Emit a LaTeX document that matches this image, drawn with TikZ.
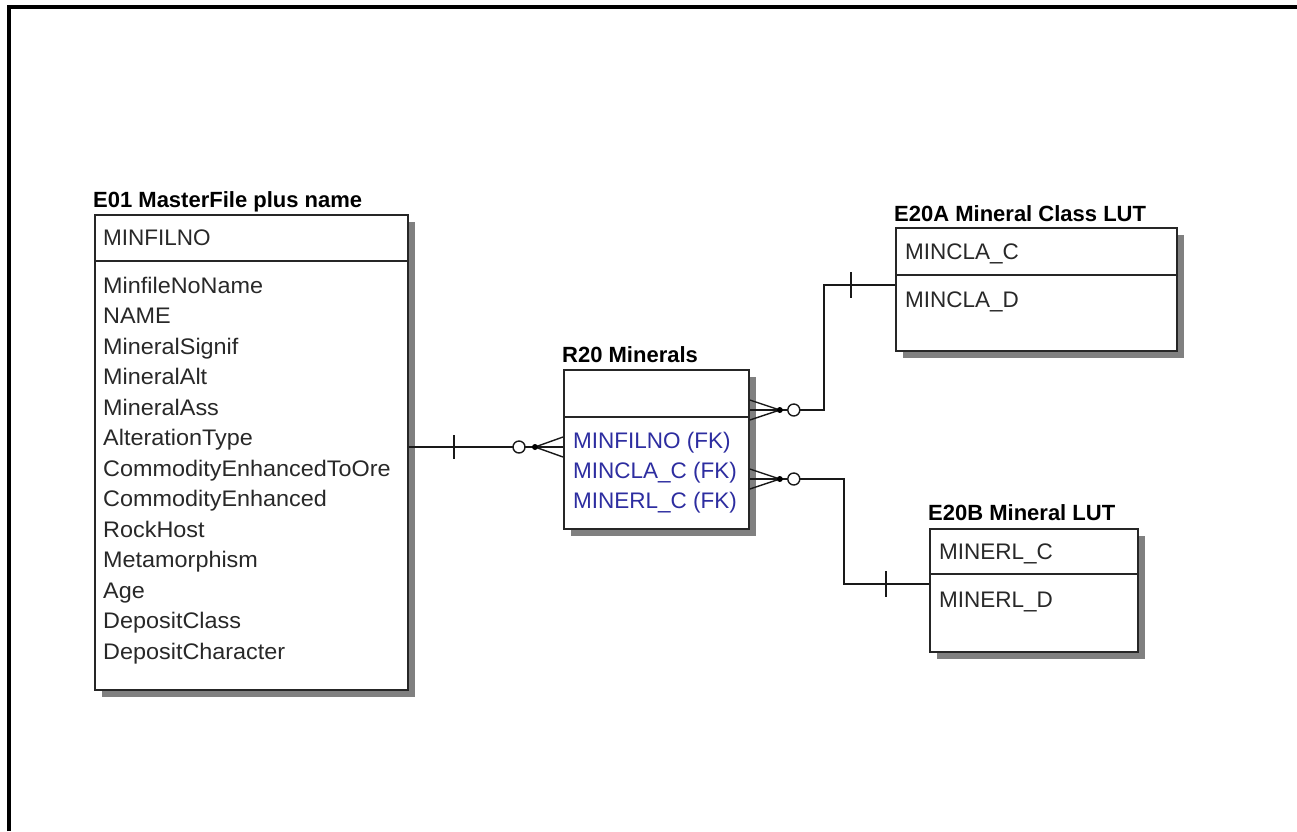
\documentclass[tikz,border=0pt]{standalone}
\usepackage{fontspec}
\setmainfont{Liberation Sans}
\newfontfamily\widefont[FakeStretch=1.04]{Liberation Sans}
\usetikzlibrary{calc,shadows}
\definecolor{fkblue}{RGB}{45,45,160}
\definecolor{txt}{RGB}{40,40,40}
\tikzset{
  ent/.style={draw=black!85, line width=1.8pt, fill=white, anchor=north west, inner sep=0pt,
    drop shadow={shadow xshift=7pt, shadow yshift=-7pt, fill=black!50, opacity=1, draw=none}},
  divline/.style={draw=black!85, line width=1.8pt},
  ttl/.style={anchor=base west, inner sep=0pt, font=\fontsize{22}{24}\selectfont\bfseries, text=black},
  row/.style={anchor=base west, inner sep=0pt, font=\fontsize{22.5}{26}\selectfont, text=txt},
  wrow/.style={row, font=\widefont\fontsize{22.5}{26}\selectfont},
  fkrow/.style={row, text=fkblue},
  conn/.style={draw=black!90, line width=1.6pt},
  prong/.style={draw=black!90, line width=1.4pt},
  opt/.style={circle, draw=black!90, line width=1.4pt, fill=white, minimum size=12pt, inner sep=0pt},
  jdot/.style={circle, fill=black, minimum size=6pt, inner sep=0pt},
  frame/.style={line width=3.5pt, draw=black}
}
\begin{document}
\begin{tikzpicture}[x=1pt,y=-1pt]
\useasboundingbox (0,0) rectangle (1297,831);
\fill[white] (0,0) rectangle (1297,831);
\draw[frame] (9,831) -- (9,7) -- (1297,7);

% ---------- E01 ----------
\node[ttl] (t01) at (93,207) {E01 MasterFile plus name};
\node[ent, minimum width=313pt, minimum height=475pt] (e01) at (94,214) {};
\draw[divline] ($(e01.north west)+(0,47)$) -- ($(e01.north east)+(0,47)$);
\node[row] (k01) at (103,245) {MINFILNO};
\foreach \t [count=\i from 0] in {MinfileNoName,NAME,MineralSignif,MineralAlt,MineralAss,AlterationType,CommodityEnhancedToOre,CommodityEnhanced,RockHost,Metamorphism,Age,DepositClass,DepositCharacter}
  \node[wrow] (a01-\i) at (103,{293+30.5*\i}) {\t};

% ---------- R20 ----------
\node[ttl] (t20) at (562,362) {R20 Minerals};
\node[ent, minimum width=185pt, minimum height=159pt] (r20) at (563,369) {};
\draw[divline] ($(r20.north west)+(0,48)$) -- ($(r20.north east)+(0,48)$);
\node[fkrow] (f1) at (573,448) {MINFILNO (FK)};
\node[fkrow] (f2) at (573,478) {MINCLA\_C (FK)};
\node[fkrow] (f3) at (573,508) {MINERL\_C (FK)};

% ---------- E20A ----------
\node[ttl] (t20a) at (894,221) {E20A Mineral Class LUT};
\node[ent, minimum width=281pt, minimum height=123pt] (e20a) at (895,227) {};
\draw[divline] ($(e20a.north west)+(0,48)$) -- ($(e20a.north east)+(0,48)$);
\node[row] (ka) at (905,259) {MINCLA\_C};
\node[row] (da) at (905,307) {MINCLA\_D};

% ---------- E20B ----------
\node[ttl] (t20b) at (928,520) {E20B Mineral LUT};
\node[ent, minimum width=208pt, minimum height=123pt] (e20b) at (929,528) {};
\draw[divline] ($(e20b.north west)+(0,46)$) -- ($(e20b.north east)+(0,46)$);
\node[row] (kb) at (939,559) {MINERL\_C};
\node[row] (db) at (939,607) {MINERL\_D};

% ---------- connector E01 -> R20 ----------
\coordinate (s1) at ($(e01.north east)+(0,233)$);
\coordinate (m1) at ($(r20.north west)+(-28,78)$);
\coordinate (b1) at ($(s1)+(45,0)$);
\draw[conn] (s1) -- (m1);
\draw[conn] ($(b1)+(0,-12)$) -- ($(b1)+(0,12)$);
\foreach \d in {-10,0,10} \draw[prong] (m1) -- ($(r20.north west)+(0,78+\d)$);
\node[opt] (o1) at ($(m1)+(-16,0)$) {};
\node[jdot] (j1) at (m1) {};

% ---------- connector R20 -> E20A ----------
\coordinate (m2) at ($(r20.north east)+(30,41)$);
\coordinate (e2) at ($(e20a.north west)+(0,58)$);
\coordinate (c2) at ($(m2)+(44,0)$);
\draw[conn] (m2) -- (c2) -- (c2 |- e2) -- (e2);
\coordinate (b2) at ($(e2)+(-44,0)$);
\draw[conn] ($(b2)+(0,-13)$) -- ($(b2)+(0,13)$);
\foreach \d in {-10,0,10} \draw[prong] (m2) -- ($(r20.north east)+(0,41+\d)$);
\node[opt] (o2) at ($(m2)+(14,0)$) {};
\node[jdot] (j2) at (m2) {};

% ---------- connector R20 -> E20B ----------
\coordinate (m3) at ($(r20.north east)+(30,110)$);
\coordinate (e3) at ($(e20b.north west)+(0,56)$);
\coordinate (c3) at ($(m3)+(64,0)$);
\draw[conn] (m3) -- (c3) -- (c3 |- e3) -- (e3);
\coordinate (b3) at ($(e3)+(-43,0)$);
\draw[conn] ($(b3)+(0,-13)$) -- ($(b3)+(0,13)$);
\foreach \d in {-10,0,10} \draw[prong] (m3) -- ($(r20.north east)+(0,110+\d)$);
\node[opt] (o3) at ($(m3)+(14,0)$) {};
\node[jdot] (j3) at (m3) {};
\end{tikzpicture}
\end{document}
